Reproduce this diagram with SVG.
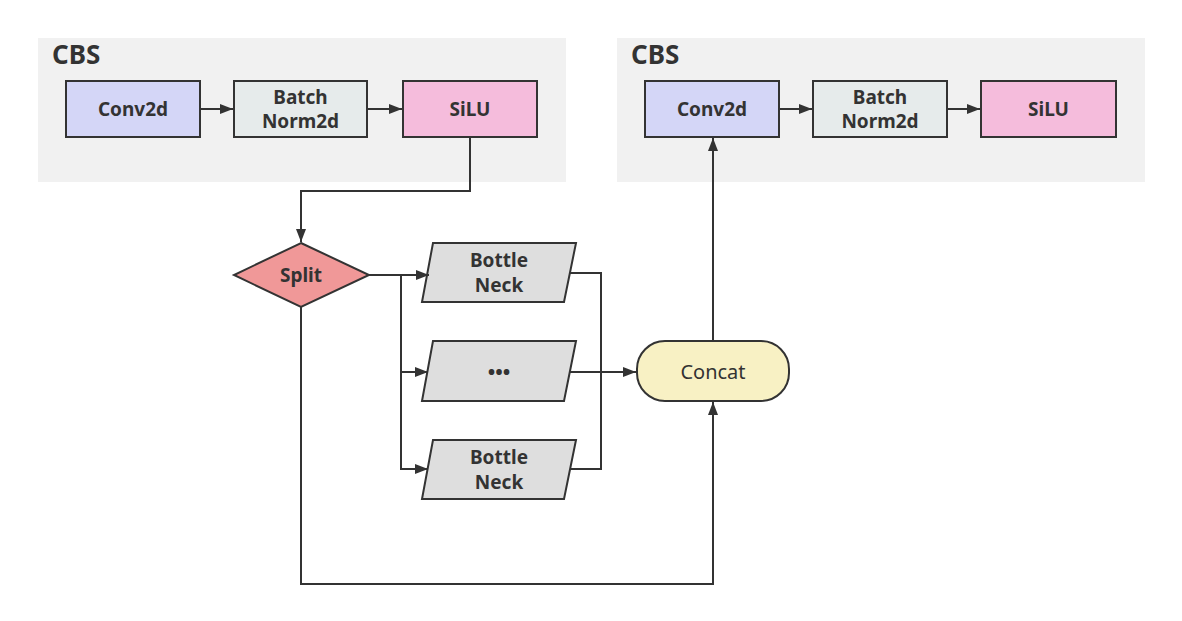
<svg xmlns="http://www.w3.org/2000/svg" width="1182" height="621" viewBox="0 0 1182 621">
<defs>
<marker id="ah" markerWidth="13" markerHeight="10" refX="13" refY="5" orient="auto" markerUnits="userSpaceOnUse">
<path d="M0,0 L13,5 L0,10 Z" fill="#333"/>
</marker>
<style>
.bg{fill:#f1f1f1}
.box{stroke:#333;stroke-width:2}
.t{font-family:"Noto Sans","Open Sans",sans-serif;font-weight:bold;font-size:19px;fill:#333;text-anchor:middle;dominant-baseline:central}
.title{font-family:"Noto Sans","Open Sans",sans-serif;font-weight:bold;font-size:26px;fill:#333}
.c{fill:none;stroke:#333;stroke-width:2}
</style>
</defs>
<rect width="1182" height="621" fill="#fff"/>
<g id="cbs1">
<rect class="bg" x="38" y="38" width="528" height="144"/>
<text class="title" x="52" y="64">CBS</text>
</g>
<g id="cbs2">
<rect class="bg" x="617" y="38" width="528" height="144"/>
<text class="title" x="631" y="64">CBS</text>
</g>
<g id="conv1"><rect class="box" x="66" y="81" width="134" height="56" fill="#d4d6f7"/><text class="t" x="133" y="109">Conv2d</text></g>
<g id="bn1"><rect class="box" x="234" y="81" width="133" height="56" fill="#e6ebeb"/><text class="t" x="300.5" y="97">Batch</text><text class="t" x="300.5" y="121">Norm2d</text></g>
<g id="silu1"><rect class="box" x="403" y="81" width="134" height="56" fill="#f5bcdc"/><text class="t" x="470" y="109">SiLU</text></g>
<g id="conv2"><rect class="box" x="645" y="81" width="134" height="56" fill="#d4d6f7"/><text class="t" x="712" y="109">Conv2d</text></g>
<g id="bn2"><rect class="box" x="813" y="81" width="134" height="56" fill="#e6ebeb"/><text class="t" x="880" y="97">Batch</text><text class="t" x="880" y="121">Norm2d</text></g>
<g id="silu2"><rect class="box" x="981" y="81" width="135" height="56" fill="#f5bcdc"/><text class="t" x="1048.5" y="109">SiLU</text></g>
<g id="split"><polygon class="box" points="301,243 369,275 301,307 234,275" fill="#f09898"/><text class="t" x="301" y="275">Split</text></g>
<g id="bn_top"><polygon class="box" points="433,243 576,243 564,302 422,302" fill="#dedede"/><text class="t" x="499" y="260">Bottle</text><text class="t" x="499" y="285">Neck</text></g>
<g id="bn_mid"><polygon class="box" points="433,341 576,341 564,401 422,401" fill="#dedede"/><text class="t" x="499" y="371" style="font-size:20px">•••</text></g>
<g id="bn_bot"><polygon class="box" points="433,440 576,440 564,499 422,499" fill="#dedede"/><text class="t" x="499" y="457">Bottle</text><text class="t" x="499" y="482">Neck</text></g>
<g id="concat"><rect class="box" x="637" y="341" width="152" height="60" rx="28" ry="28" fill="#f8f1c4"/><text class="t" x="713" y="371" style="font-weight:normal;font-size:20px">Concat</text></g>
<g id="connectors">
<line class="c" x1="200" y1="109" x2="233" y2="109" marker-end="url(#ah)"/>
<line class="c" x1="367" y1="109" x2="402" y2="109" marker-end="url(#ah)"/>
<line class="c" x1="779" y1="109" x2="812" y2="109" marker-end="url(#ah)"/>
<line class="c" x1="947" y1="109" x2="980" y2="109" marker-end="url(#ah)"/>
<polyline class="c" points="470,137 470,191 301,191 301,242" marker-end="url(#ah)"/>
<polyline class="c" points="369,275 429,275" marker-end="url(#ah)"/>
<polyline class="c" points="401,275 401,372 428,372" marker-end="url(#ah)"/>
<polyline class="c" points="401,372 401,469 428,469" marker-end="url(#ah)"/>
<polyline class="c" points="570,273 601,273 601,469 570,469"/>
<line class="c" x1="570" y1="372" x2="636" y2="372" marker-end="url(#ah)"/>
<line class="c" x1="713" y1="341" x2="713" y2="138" marker-end="url(#ah)"/>
<polyline class="c" points="301,307 301,584 713,584 713,402" marker-end="url(#ah)"/>
</g>
</svg>
